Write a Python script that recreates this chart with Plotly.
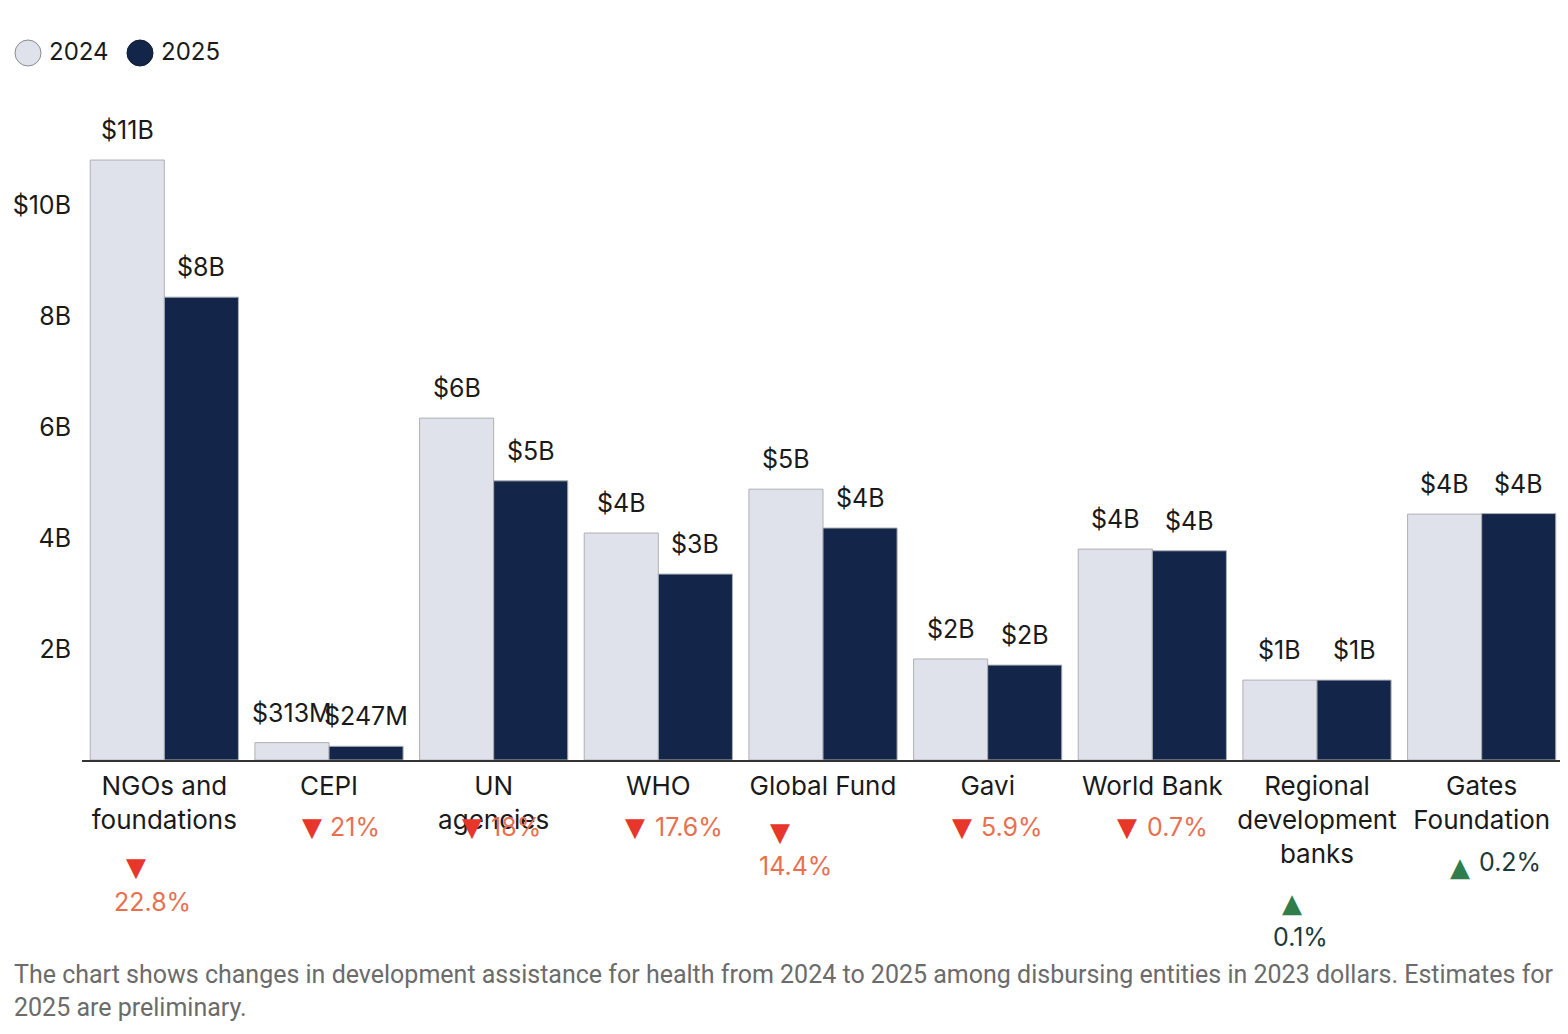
import plotly.graph_objects as go

categories = ["NGOs and<br>foundations", "CEPI", "UN<br>agencies", "WHO", "Global Fund",
              "Gavi", "World Bank", "Regional<br>development<br>banks", "Gates<br>Foundation"]
values_2024 = [10.81, 0.313, 6.16, 4.09, 4.88, 1.82, 3.80, 1.44, 4.43]
values_2025 = [8.34, 0.247, 5.03, 3.35, 4.18, 1.71, 3.77, 1.44, 4.44]
labels_2024 = ["$11B", "$313M", "$6B", "$4B", "$5B", "$2B", "$4B", "$1B", "$4B"]
labels_2025 = ["$8B", "$247M", "$5B", "$3B", "$4B", "$2B", "$4B", "$1B", "$4B"]
change_pct = ["22.8%", "21%", "18%", "17.6%", "14.4%", "5.9%", "0.7%", "0.1%", "0.2%"]
change_dir = ["down", "down", "down", "down", "down", "down", "down", "up", "up"]
ytick_vals = [2, 4, 6, 8, 10]
ytick_text = ["2B", "4B", "6B", "8B", "$10B"]
caption = ("The chart shows changes in development assistance for health from 2024 to 2025 among "
           "disbursing entities in 2023 dollars. Estimates for<br>2025 are preliminary.")

# layout geometry (page pixels; the page adds an 8px body margin)
OFF = 8
W, H = 1568 - OFF, 1034 - OFF
PL, PR, PT, PB = 82, 1564, 94, 760   # plot area in page pixels
L, T = PL - OFF, PT - OFF
R, B = (OFF + W) - PR, (OFF + H) - PB
PW, PH = PR - PL, PB - PT
YMAX = 12

def py(p):  # page pixel y -> paper
    return (PB - p) / PH

def px(p):  # page pixel x -> paper
    return (p - PL) / PW

# placement of change annotations: (arrow dx, arrow y, text dx, text y) in page px
change_pos = [(-28, 867, -12, 902), (-17, 827, 26, 827), (-22, 827, 22, 827),
              (-23, 827, 31, 827), (-43, 832, -28, 866), (-26, 827, 24, 827),
              (-25, 827, 25, 827), (-25, 903, -17, 937), (-22, 867, 28, 862)]

C24, C25 = "#dfe2ea", "#13264a"
EDGE = "#aeb0b5"
TXT = "#1a1a1a"
FONT = "Inter, Roboto, sans-serif"

fig = go.Figure()
fig.add_bar(x=categories, y=values_2024, name="2024", marker=dict(color=C24, line=dict(color=EDGE, width=1)),
            showlegend=False)
fig.add_bar(x=categories, y=values_2025, name="2025", marker=dict(color=C25, line=dict(color=EDGE, width=1)),
            showlegend=False)

ann = []
for i, (a, b) in enumerate(zip(values_2024, values_2025)):
    for off, v, t in ((-0.225, a, labels_2024[i]), (0.225, b, labels_2025[i])):
        ann.append(dict(x=i + off, y=v, xref="x", yref="y", text=t, showarrow=False,
                        yanchor="middle", yshift=30, font=dict(size=25, color=TXT, family=FONT)))
    adx, ay, tdx, ty = change_pos[i]
    if change_dir[i] == "down":
        sym, scol, tcol = "▼", "#e8372a", "#e8704f"
    else:
        sym, scol, tcol = "▲", "#2f7d4b", "#1c3a3a"
    ann.append(dict(x=i, xref="x", xshift=adx, y=py(ay), yref="paper", text=sym, showarrow=False,
                    yanchor="middle", font=dict(size=26, color=scol, family="DejaVu Sans")))
    ann.append(dict(x=i, xref="x", xshift=tdx, y=py(ty), yref="paper", text=change_pct[i], showarrow=False,
                    yanchor="middle", font=dict(size=25, color=tcol, family=FONT)))

# legend
shapes = []
for cx, col, lc, lab, tx in ((28, C24, "#8a8c90", "2024", 47), (140, C25, "#0d1a33", "2025", 159)):
    shapes.append(dict(type="circle", xref="paper", yref="paper", xsizemode="pixel", ysizemode="pixel",
                       xanchor=px(cx), yanchor=py(53), x0=-13, x1=13, y0=-13, y1=13,
                       fillcolor=col, line=dict(color=lc, width=1)))
    ann.append(dict(x=px(tx), y=py(52), xref="paper", yref="paper", text=lab, showarrow=False,
                    xanchor="left", yanchor="middle", font=dict(size=24, color=TXT, family=FONT)))

ann.append(dict(x=px(12), y=py(958), xref="paper", yref="paper", text=caption, showarrow=False,
                xanchor="left", yanchor="top", align="left",
                font=dict(size=25, color="#6b6b6b", family="Roboto, sans-serif")))

fig.update_layout(
    width=W, height=H, margin=dict(l=L, r=R, t=T, b=B),
    paper_bgcolor="white", plot_bgcolor="white",
    barmode="group", bargap=0.1, bargroupgap=0,
    font=dict(family=FONT, size=24, color=TXT),
    annotations=ann, shapes=shapes,
    xaxis=dict(range=[-0.5, 8.5], showline=True, linecolor="#333333", linewidth=2, ticks="",
               showgrid=False, ticklabelstandoff=2, tickfont=dict(size=26, color=TXT)),
    yaxis=dict(range=[0, YMAX], tickvals=ytick_vals, ticktext=ytick_text, showgrid=False,
               zeroline=False, showline=False, ticks="", ticklabelstandoff=10,
               tickfont=dict(size=25, color=TXT)),
)

fig.write_html("out.html")
